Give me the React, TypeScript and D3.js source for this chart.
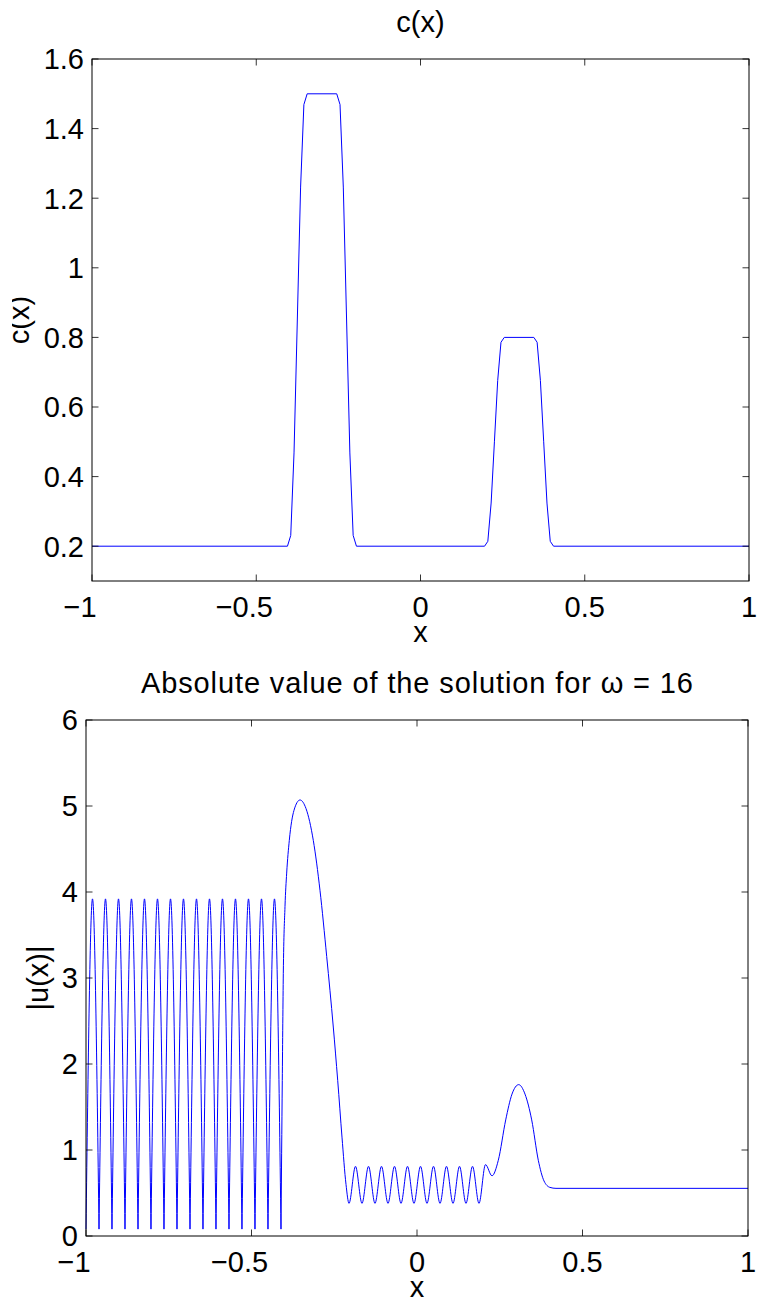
import React from "react";
import * as d3 from "d3";

// ---------- Top panel: c(x) ----------
const cX = [-1, -0.405, -0.395, -0.385, -0.375, -0.365, -0.355, -0.345, -0.255, -0.245, -0.235, -0.225, -0.215, -0.205, -0.195,
  0.195, 0.205, 0.215, 0.225, 0.235, 0.245, 0.255, 0.345, 0.355, 0.365, 0.375, 0.385, 0.395, 0.405, 1];
const cY = [0.2, 0.2, 0.231, 0.468, 0.85, 1.232, 1.469, 1.5, 1.5, 1.469, 1.232, 0.85, 0.468, 0.231, 0.2,
  0.2, 0.214, 0.324, 0.5, 0.676, 0.786, 0.8, 0.8, 0.786, 0.676, 0.5, 0.324, 0.214, 0.2, 0.2];
const topYTicks = [0.2, 0.4, 0.6, 0.8, 1, 1.2, 1.4, 1.6];
const xTicks = [-1, -0.5, 0, 0.5, 1];

// ---------- Bottom panel: |u(x)| ----------
const leftTroughX = [-1, -0.9607, -0.9215, -0.8822, -0.8429, -0.8037, -0.7644, -0.7251, -0.6858, -0.6466, -0.6073, -0.568, -0.5288, -0.4895, -0.4502, -0.4109];
const leftTroughU = [0.08, 0.08, 0.08, 0.08, 0.08, 0.08, 0.08, 0.08, 0.08, 0.08, 0.08, 0.08, 0.08, 0.08, 0.08, 0.08];
const leftPeakX = [-0.9804, -0.9411, -0.9018, -0.8626, -0.8233, -0.784, -0.7447, -0.7055, -0.6662, -0.6269, -0.5877, -0.5484, -0.5091, -0.4698, -0.4306];
const leftPeakU = [3.92, 3.92, 3.92, 3.92, 3.92, 3.92, 3.92, 3.92, 3.92, 3.92, 3.92, 3.92, 3.92, 3.92, 3.92];

const restX = [-0.4109, -0.407, -0.4039, -0.3988, -0.3937, -0.3858, -0.3716, -0.3535, -0.3353, -0.3133, -0.2931, -0.2728, -0.2529, -0.2396, -0.2266, -0.2145,
  -0.2054, -0.1858, -0.1662, -0.1465, -0.1269, -0.1073, -0.0876, -0.068, -0.0483, -0.0287, -0.0091, 0.0106, 0.0302, 0.0498, 0.0695, 0.0891, 0.1088, 0.1284, 0.148, 0.1677, 0.1873, 0.2069,
  0.2266, 0.2456, 0.268, 0.287, 0.3073, 0.3263, 0.3465, 0.3665, 0.3837, 0.4018, 0.4199, 1];
const restU = [0.08, 1.81, 3.05, 3.83, 4.22, 4.6, 4.95, 5.07, 4.97, 4.6, 4.02, 3.25, 2.43, 1.81, 1.15, 0.6,
  0.38, 0.81, 0.38, 0.81, 0.38, 0.81, 0.38, 0.81, 0.38, 0.81, 0.38, 0.81, 0.38, 0.81, 0.38, 0.81, 0.38, 0.81, 0.38, 0.81, 0.38, 0.83,
  0.7, 0.88, 1.35, 1.65, 1.76, 1.65, 1.35, 0.88, 0.64, 0.565, 0.554, 0.554];
const botYTicks = [0, 1, 2, 3, 4, 5, 6];

const TOP_TITLE = "c(x)";
const BOT_TITLE = "Absolute value of the solution for \u03C9 = 16";

const FONT = "'Liberation Sans', Arial, Helvetica, sans-serif";
const FS = 29;
const TICK = 6.5;

type Box = { l: number; r: number; t: number; b: number };

function fmt(v: number): string {
  const s = String(v);
  return s.replace("-", "\u2212");
}

function Axes({ box, xDom, yDom, yTicks, children, title, titleLen, xlabel, ylabel, ylabelX, ylabelClip }: any) {
  const x = d3.scaleLinear().domain(xDom).range([box.l, box.r]);
  const y = d3.scaleLinear().domain(yDom).range([box.b, box.t]);
  return (
    <g>
      {children(x, y)}
      <rect x={box.l} y={box.t} width={box.r - box.l} height={box.b - box.t} fill="none" stroke="#000" strokeWidth={1} />
      {xTicks.map((v) => (
        <g key={"xt" + v}>
          <line x1={x(v)} x2={x(v)} y1={box.b} y2={box.b - TICK} stroke="#000" strokeWidth={0.8} />
          <line x1={x(v)} x2={x(v)} y1={box.t} y2={box.t + TICK} stroke="#000" strokeWidth={0.8} />
          <text x={x(v) + (v < 0 ? -12 : 0)} y={box.b + 36} textAnchor="middle" fontFamily={FONT} fontSize={FS}>
            {fmt(v)}
          </text>
        </g>
      ))}
      {yTicks.map((v: number) => (
        <g key={"yt" + v}>
          <line x1={box.l} x2={box.l + TICK} y1={y(v)} y2={y(v)} stroke="#000" strokeWidth={0.8} />
          <line x1={box.r} x2={box.r - TICK} y1={y(v)} y2={y(v)} stroke="#000" strokeWidth={0.8} />
          <text x={box.l - 8} y={y(v)} dy="0.36em" textAnchor="end" fontFamily={FONT} fontSize={FS}>
            {fmt(v)}
          </text>
        </g>
      ))}
      <text
        x={(box.l + box.r) / 2}
        y={box.t - 27}
        textAnchor="middle"
        fontFamily={FONT}
        fontSize={FS}
        {...(titleLen ? { textLength: titleLen, lengthAdjust: "spacing" } : {})}
      >
        {title}
      </text>
      <text x={(box.l + box.r) / 2} y={box.b + 61} textAnchor="middle" fontFamily={FONT} fontSize={FS}>
        {xlabel}
      </text>
      <text
        transform={`translate(${ylabelX},${(box.t + box.b) / 2}) rotate(-90)`}
        textAnchor="middle"
        fontFamily={FONT}
        fontSize={FS}
        clipPath={ylabelClip ? `url(#${ylabelClip})` : undefined}
      >
        {ylabel}
      </text>
    </g>
  );
}

export default function App() {
  const topBox: Box = { l: 92, r: 749, t: 59, b: 581 };
  const botBox: Box = { l: 86, r: 748, t: 720, b: 1236 };

  return (
    <svg width={757} height={1307} style={{ position: "absolute", left: 0, top: 0, background: "#fff" }}>
      <defs>
        <clipPath id="ylabTopClip" clipPathUnits="userSpaceOnUse">
          {/* in the label's rotated frame: keep only the part right of x = 12 on the page */}
          <rect x={-200} y={-17} width={400} height={40} />
        </clipPath>
      </defs>
      <rect x={0} y={0} width={757} height={1307} fill="#fff" />
      <Axes
        box={topBox}
        xDom={[-1, 1]}
        yDom={[0.1, 1.6]}
        yTicks={topYTicks}
        title={TOP_TITLE}
        xlabel="x"
        ylabel="c(x)"
        ylabelX={29}
        ylabelClip="ylabTopClip"
      >
        {(x: any, y: any) => {
          const line = d3.line<number>().x((_, i) => x(cX[i])).y((d) => y(d));
          return <path d={line(cY) || ""} fill="none" stroke="#0000ff" strokeWidth={1} />;
        }}
      </Axes>
      <Axes
        box={botBox}
        xDom={[-1, 1]}
        yDom={[0, 6]}
        yTicks={botYTicks}
        title={BOT_TITLE}
        titleLen={552}
        xlabel="x"
        ylabel="|u(x)|"
        ylabelX={48}
      >
        {(x: any, y: any) => {
          const arch = d3
            .line<[number, number]>()
            .x((d) => x(d[0]))
            .y((d) => y(d[1]))
            .curve(d3.curveNatural);
          let d = "";
          for (let i = 0; i < leftPeakX.length; i++) {
            d += arch([
              [leftTroughX[i], leftTroughU[i]],
              [leftPeakX[i], leftPeakU[i]],
              [leftTroughX[i + 1], leftTroughU[i + 1]],
            ]);
          }
          const rest = d3
            .line<number>()
            .x((_, i) => x(restX[i]))
            .y((v) => y(v))
            .curve(d3.curveMonotoneX);
          return (
            <g>
              <path d={d} fill="none" stroke="#0000ff" strokeWidth={1} />
              <path d={rest(restU) || ""} fill="none" stroke="#0000ff" strokeWidth={1} />
            </g>
          );
        }}
      </Axes>
    </svg>
  );
}
